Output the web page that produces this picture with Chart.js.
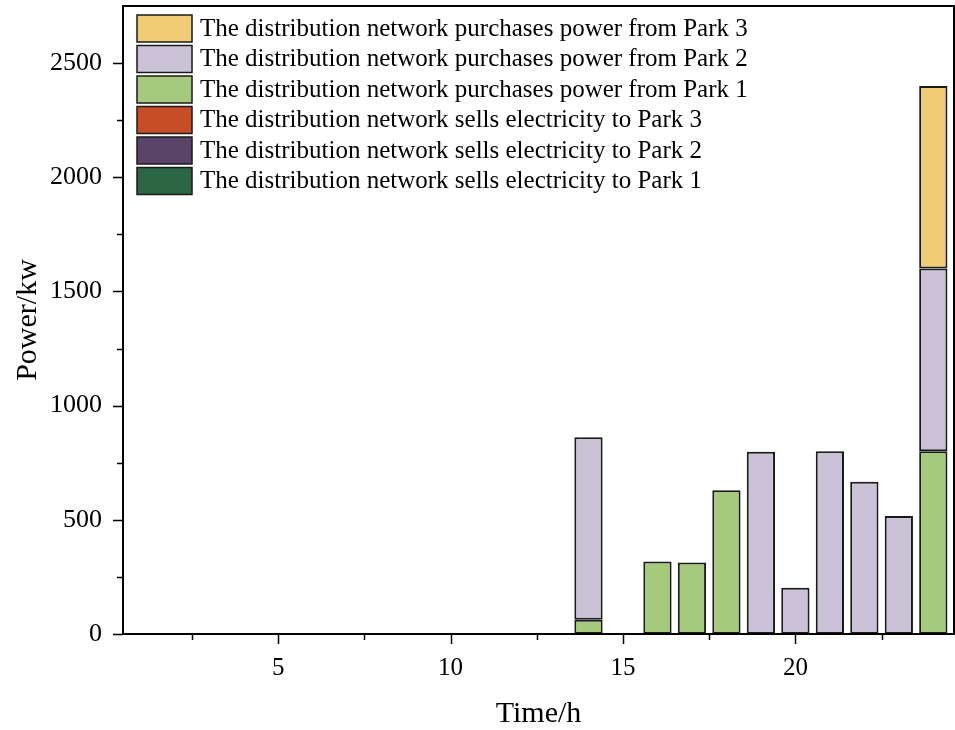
<!DOCTYPE html>
<html>
<head>
<meta charset="utf-8">
<script src="https://cdn.jsdelivr.net/npm/chart.js@4/dist/chart.umd.min.js"></script>
<style>
  html, body { margin: 0; padding: 0; background: #fff; }
  #wrap { width: 955px; height: 730px; }
</style>
</head>
<body>
<div id="wrap"><canvas id="chart" width="955" height="730"></canvas></div>
<script>
// Hours 1..24
const hours = [1,2,3,4,5,6,7,8,9,10,11,12,13,14,15,16,17,18,19,20,21,22,23,24];

// Power values (kW)
const buyPark1 = [0,0,0,0,0,0,0,0,0,0,0,0,0,62,0,318,313,630,0,0,0,0,0,800];
const buyPark2 = [0,0,0,0,0,0,0,0,0,0,0,0,0,800,0,0,0,0,798,203,800,667,517,800];
const buyPark3 = [0,0,0,0,0,0,0,0,0,0,0,0,0,0,0,0,0,0,0,0,0,0,0,800];
const sellPark1 = [0,0,0,0,0,0,0,0,0,0,0,0,0,0,0,0,0,0,0,0,0,0,0,0];
const sellPark2 = [0,0,0,0,0,0,0,0,0,0,0,0,0,0,0,0,0,0,0,0,0,0,0,0];
const sellPark3 = [0,0,0,0,0,0,0,0,0,0,0,0,0,0,0,0,0,0,0,0,0,0,0,0];

const xTicks = [5, 10, 15, 20];
const xMinor = [2.5, 7.5, 12.5, 17.5, 22.5];
const yTicks = [0, 500, 1000, 1500, 2000, 2500];
const yMinor = [250, 750, 1250, 1750, 2250];

const SERIF = '"Liberation Serif", "Times New Roman", serif';

function pts(arr) {
  return hours.map((h, i) => ({ x: h, y: arr[i] }));
}

function ds(label, arr, color) {
  return {
    label,
    data: pts(arr),
    backgroundColor: color,
    borderColor: "#1a1a1a",
    // no outline for empty bars
    borderWidth: c => (c.parsed && c.parsed.y ? 2 : 0),
    borderSkipped: false,
    barPercentage: 0.82,
    categoryPercentage: 1.0
  };
}

// legend order top->bottom is the reverse of the dataset order
const datasets = [
  ds("The distribution network sells electricity to Park 1", sellPark1, "#2c6644"),
  ds("The distribution network sells electricity to Park 2", sellPark2, "#5a4468"),
  ds("The distribution network sells electricity to Park 3", sellPark3, "#c74d28"),
  ds("The distribution network purchases power from Park 1", buyPark1, "#a5c97d"),
  ds("The distribution network purchases power from Park 2", buyPark2, "#cbc2d8"),
  ds("The distribution network purchases power from Park 3", buyPark3, "#f2cb77")
];

// frame, tick marks, and in-plot legend
const decorPlugin = {
  id: "decor",
  afterDraw(chart) {
    const { ctx, chartArea: a, scales } = chart;
    ctx.save();
    ctx.strokeStyle = "#000";
    ctx.lineWidth = 2;
    ctx.strokeRect(a.left, a.top, a.right - a.left, a.bottom - a.top);

    ctx.lineWidth = 1.5;
    ctx.beginPath();
    const xt = (vals, len) => vals.forEach(v => {
      const x = Math.round(scales.x.getPixelForValue(v)) + 0.5;
      ctx.moveTo(x, a.bottom);
      ctx.lineTo(x, a.bottom + len);
    });
    const yt = (vals, len) => vals.forEach(v => {
      const y = Math.round(scales.y.getPixelForValue(v)) + 0.5;
      ctx.moveTo(a.left, y);
      ctx.lineTo(a.left - len, y);
    });
    xt(xTicks, 10); xt(xMinor, 6);
    yt(yTicks, 10); yt(yMinor, 6);
    ctx.stroke();

    // legend
    const items = chart.data.datasets.slice().reverse();
    const x0 = a.left + 14, y0 = a.top + 9, rowH = 30.5;
    ctx.font = "25px " + SERIF;
    ctx.textBaseline = "middle";
    ctx.textAlign = "left";
    items.forEach((d, i) => {
      const y = y0 + i * rowH;
      ctx.fillStyle = d.backgroundColor;
      ctx.fillRect(x0, y, 55, 27);
      ctx.strokeStyle = "#1a1a1a";
      ctx.lineWidth = 1.5;
      ctx.strokeRect(x0, y, 55, 27);
      ctx.fillStyle = "#000";
      ctx.fillText(d.label, x0 + 63, y + 14);
    });
    ctx.restore();
  }
};

new Chart(document.getElementById("chart"), {
  type: "bar",
  data: { datasets },
  plugins: [decorPlugin],
  options: {
    responsive: false,
    animation: false,
    layout: { padding: { top: 6, right: 1, left: 0, bottom: 0 } },
    plugins: {
      legend: { display: false },
      tooltip: { enabled: false }
    },
    scales: {
      x: {
        type: "linear",
        stacked: true,
        offset: false,
        min: 0.5,
        max: 24.6,
        afterBuildTicks(scale) {
          scale.ticks = xTicks.map(v => ({ value: v }));
        },
        afterFit(scale) {
          scale.height = 96;
          scale.paddingLeft = 0;
          scale.paddingRight = 0;
        },
        grid: { display: false },
        border: { display: true, color: "#000", width: 2 },
        ticks: {
          color: "#000",
          font: { family: SERIF, size: 25 },
          padding: 11,
          maxRotation: 0,
          callback: v => String(v)
        },
        title: {
          display: true,
          text: "Time/h",
          color: "#000",
          font: { family: SERIF, size: 30 },
          padding: { top: 0, bottom: -2 }
        }
      },
      y: {
        stacked: true,
        min: 0,
        max: 2750,
        afterBuildTicks(scale) {
          scale.ticks = yTicks.map(v => ({ value: v }));
        },
        afterFit(scale) {
          scale.width = 123;
          scale.paddingTop = 0;
          scale.paddingBottom = 0;
        },
        grid: { display: false },
        border: { display: true, color: "#000", width: 2 },
        ticks: {
          color: "#000",
          font: { family: SERIF, size: 26 },
          padding: 13,
          callback: v => String(v)
        },
        title: {
          display: true,
          text: "Power/kw",
          color: "#000",
          font: { family: SERIF, size: 30 },
          padding: { top: 10, bottom: 0 }
        }
      }
    }
  }
});
</script>
</body>
</html>
